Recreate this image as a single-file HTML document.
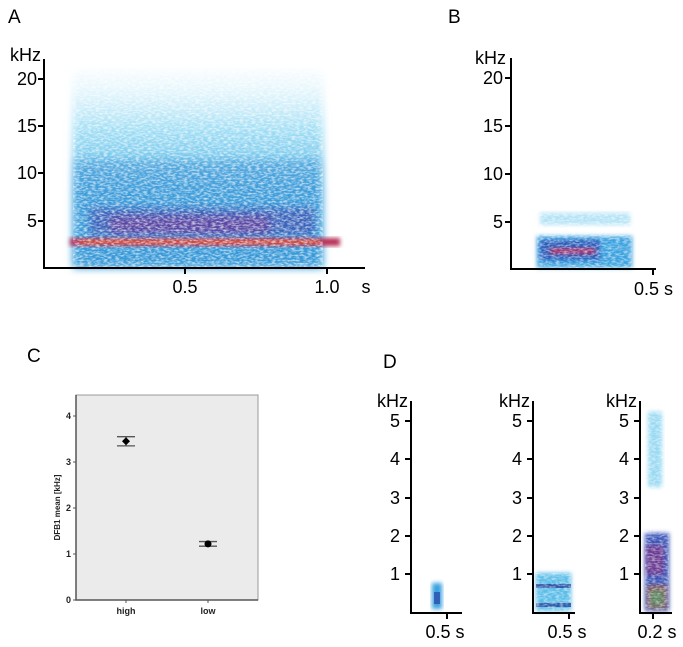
<!DOCTYPE html>
<html><head><meta charset="utf-8"><style>
body{margin:0;background:#fff;}
svg{display:block;font-family:"Liberation Sans",Arial,sans-serif;}
</style></head><body>
<svg width="683" height="647" viewBox="0 0 683 647">
<defs>
<filter id="blur2" x="-20%" y="-20%" width="140%" height="140%"><feGaussianBlur stdDeviation="2"/></filter>
<filter id="blur4" x="-20%" y="-20%" width="140%" height="140%"><feGaussianBlur stdDeviation="4"/></filter>
<filter id="noise" x="0" y="0" width="100%" height="100%">
 <feTurbulence type="fractalNoise" baseFrequency="0.25 0.6" numOctaves="2" seed="3"/>
 <feColorMatrix type="matrix" values="0 0 0 0 1  0 0 0 0 1  0 0 0 0 1  0 0 0 -2.6 1.6"/>
</filter>
<linearGradient id="fadeA" x1="0" y1="0" x2="0" y2="1">
 <stop offset="0" stop-color="#d8f2fb" stop-opacity="0.2"/>
 <stop offset="0.3" stop-color="#8ad6f2" stop-opacity="0.8"/>
 <stop offset="0.6" stop-color="#4db0e4"/>
 <stop offset="1" stop-color="#3aa6e0"/>
</linearGradient>
</defs>

<text x="8" y="23" font-size="19">A</text>
<text x="448" y="23" font-size="19">B</text>
<text x="27" y="362" font-size="19">C</text>
<text x="383" y="368" font-size="19">D</text>

<g>
 <rect x="73" y="70" width="250" height="198" fill="url(#fadeA)" filter="url(#blur4)"/>
 <rect x="75" y="160" width="245" height="106" fill="#2f86cf" opacity="0.45" filter="url(#blur4)"/>
 <rect x="90" y="208" width="225" height="28" fill="#3b3fa8" opacity="0.6" filter="url(#blur4)"/>
 <rect x="110" y="216" width="160" height="18" fill="#7a2c8c" opacity="0.5" filter="url(#blur4)"/>
 <rect x="70" y="238" width="270" height="8" fill="#b8305a" filter="url(#blur2)"/>
 <rect x="80" y="240" width="240" height="4" fill="#e0602a" opacity="0.8" filter="url(#blur2)"/>
 <rect x="73" y="70" width="250" height="198" fill="#fff" filter="url(#noise)" opacity="0.65"/>
</g>
<g stroke="#000" stroke-width="2" fill="none">
 <path d="M44 59 V268 H365"/>
 <path d="M38 79 H44 M38 126 H44 M38 173 H44 M38 221 H44 M185 268 V274 M327 268 V274"/>
</g>
<g font-size="18" text-anchor="end">
 <text x="41" y="61">kHz</text>
 <text x="37" y="85">20</text><text x="37" y="132">15</text><text x="37" y="179">10</text><text x="37" y="227">5</text>
</g>
<g font-size="18" text-anchor="middle">
 <text x="185" y="293">0.5</text><text x="327" y="293">1.0</text><text x="366" y="293">s</text>
</g>

<g>
 <rect x="540" y="213" width="90" height="12" fill="#7fd0f0" opacity="0.6" filter="url(#blur2)"/>
 <rect x="537" y="236" width="95" height="32" fill="#3aa2e0" filter="url(#blur2)"/>
 <rect x="540" y="240" width="60" height="20" fill="#2846b0" opacity="0.8" filter="url(#blur2)"/>
 <rect x="550" y="248" width="45" height="6" fill="#b0306a" filter="url(#blur2)"/>
 <rect x="537" y="213" width="95" height="56" fill="#fff" filter="url(#noise)" opacity="0.55"/>
</g>
<g stroke="#000" stroke-width="2" fill="none">
 <path d="M511 58 V269 H656"/>
 <path d="M505 78 H511 M505 126 H511 M505 174 H511 M505 222 H511 M653 269 V275"/>
</g>
<g font-size="18" text-anchor="end">
 <text x="506" y="64">kHz</text>
 <text x="503" y="84">20</text><text x="503" y="132">15</text><text x="503" y="180">10</text><text x="503" y="228">5</text>
</g>
<text x="673" y="295" font-size="18" text-anchor="end">0.5 s</text>

<g id="chartC"></g>

<g>
 <rect x="432" y="583" width="10" height="26" fill="#3aa2e0" filter="url(#blur2)"/>
 <rect x="434" y="592" width="6" height="12" fill="#2a40a8" opacity="0.7"/>
</g>
<g>
 <rect x="536" y="573" width="35" height="38" fill="#5bbde8" filter="url(#blur2)"/>
 <rect x="536" y="584" width="35" height="4" fill="#1f3e9a" opacity="0.8"/>
 <rect x="536" y="603" width="35" height="4" fill="#1f3e9a" opacity="0.8"/>
 <rect x="536" y="573" width="35" height="38" fill="#fff" filter="url(#noise)" opacity="0.5"/>
</g>
<g>
 <rect x="648" y="412" width="14" height="75" fill="#7fd0f0" opacity="0.8" filter="url(#blur2)"/>
 <rect x="645" y="533" width="24" height="78" fill="#3b55b8" filter="url(#blur2)"/>
 <rect x="646" y="545" width="18" height="30" fill="#8a2a7a" opacity="0.6" filter="url(#blur2)"/>
 <rect x="647" y="585" width="20" height="24" fill="#c0602a" opacity="0.6" filter="url(#blur2)"/>
 <rect x="650" y="590" width="14" height="16" fill="#40a060" opacity="0.6" filter="url(#blur2)"/>
 <rect x="645" y="412" width="24" height="199" fill="#fff" filter="url(#noise)" opacity="0.5"/>
</g>
<g stroke="#000" stroke-width="2" fill="none">
 <path d="M411 401 V613 H462 M405 421 H411 M405 459 H411 M405 498 H411 M405 536 H411 M405 574 H411 M447 613 V619"/>
 <path d="M533 401 V613 H575 M527 421 H533 M527 459 H533 M527 498 H533 M527 536 H533 M527 574 H533 M569 613 V619"/>
 <path d="M640 401 V613 H672 M634 421 H640 M634 459 H640 M634 498 H640 M634 536 H640 M634 574 H640 M653 613 V619"/>
</g>
<g font-size="18" text-anchor="end">
 <text x="408" y="407">kHz</text><text x="400" y="427">5</text><text x="400" y="465">4</text><text x="400" y="504">3</text><text x="400" y="542">2</text><text x="400" y="580">1</text>
 <text x="530" y="407">kHz</text><text x="522" y="427">5</text><text x="522" y="465">4</text><text x="522" y="504">3</text><text x="522" y="542">2</text><text x="522" y="580">1</text>
 <text x="637" y="407">kHz</text><text x="629" y="427">5</text><text x="629" y="465">4</text><text x="629" y="504">3</text><text x="629" y="542">2</text><text x="629" y="580">1</text>
</g>
<g font-size="18" text-anchor="middle">
 <text x="445" y="638">0.5 s</text><text x="567" y="638">0.5 s</text><text x="657" y="638">0.2 s</text>
</g>
</svg>
<script>
const categories = ["high", "low"];
const means = [3.45, 1.22];
const errLow = [3.35, 1.17];
const errHigh = [3.55, 1.27];
const yTicks = [0, 1, 2, 3, 4];

const NS = "http://www.w3.org/2000/svg";
const g = document.getElementById("chartC");
const L = 76, R = 258, T = 395, B = 600;
const yScale = v => B - v * 46;
const xScale = i => 126 + i * 82;
function mk(tag, attrs, parent) {
  const e = document.createElementNS(NS, tag);
  for (const k in attrs) e.setAttribute(k, attrs[k]);
  (parent || g).appendChild(e);
  return e;
}
const bg = mk("rect", {x: L, y: T, width: R - L, height: B - T, fill: "#ebebeb", stroke: "#999", "stroke-width": 1});


const ax = mk("path", {d: `M${L} ${T} V${B} H${R}`, stroke: "#555", "stroke-width": 1.5, fill: "none"});


yTicks.forEach(v => {
  const t = mk("text", {x: L - 5, y: yScale(v) + 3, "font-size": 9, "font-weight": "bold", "text-anchor": "end", fill: "#222"});
  t.textContent = v;
  
  
  mk("line", {x1: L - 3, x2: L, y1: yScale(v), y2: yScale(v), stroke: "#555"});
});
categories.forEach((c, i) => {
  const x = xScale(i);
  const t = mk("text", {x: x, y: B + 14, "font-size": 9, "font-weight": "bold", "text-anchor": "middle", fill: "#222"});
  t.textContent = c;
  
  
  mk("line", {x1: x, x2: x, y1: B, y2: B + 3, stroke: "#555"});
  const eb = mk("path", {d: `M${x-9} ${yScale(errHigh[i])} H${x+9} M${x-9} ${yScale(errLow[i])} H${x+9} M${x} ${yScale(errHigh[i])} V${yScale(errLow[i])}`, stroke: "#555", "stroke-width": 1.3, fill: "none"});
  
  
  const pt = mk("path", i === 0
    ? {d: `M${x} ${yScale(means[i])-4} L${x+4} ${yScale(means[i])} L${x} ${yScale(means[i])+4} L${x-4} ${yScale(means[i])} Z`, fill: "#000"}
    : {d: `M${x-3.5} ${yScale(means[i])} a3.5 3.5 0 1 0 7 0 a3.5 3.5 0 1 0 -7 0`, fill: "#000"});
  
  
});
const yl = mk("text", {x: 0, y: 0, "font-size": 8, "font-weight": "bold", "text-anchor": "middle", transform: `translate(60 ${(T + B) / 2 + 10}) rotate(-90)`, fill: "#222"});
yl.textContent = "DFB1 mean [kHz]";


</script>
</body></html>
